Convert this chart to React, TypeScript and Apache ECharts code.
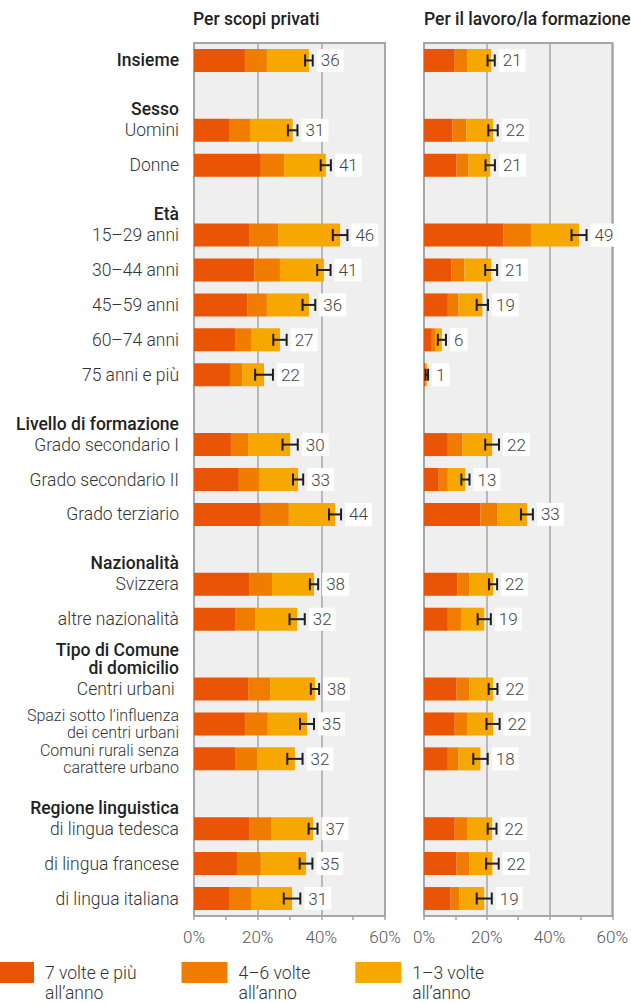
import React, { useEffect, useRef } from "react";
import * as echarts from "echarts";

const FONT = 'Roboto, "Noto Sans", sans-serif';

// Row labels (19 rows) and group headers placed before given row index
const rowLabels = [
  "Insieme",
  "Uomini",
  "Donne",
  "15–29 anni",
  "30–44 anni",
  "45–59 anni",
  "60–74 anni",
  "75 anni e più",
  "Grado secondario I",
  "Grado secondario II",
  "Grado terziario",
  "Svizzera",
  "altre nazionalità",
  "Centri urbani ",
  "Spazi sotto l’influenza\ndei centri urbani",
  "Comuni rurali senza\ncarattere urbano",
  "di lingua tedesca",
  "di lingua francese",
  "di lingua italiana",
];
const groupHeaderRows = [1, 3, 8, 11, 13, 16];
const groupHeaders = [
  "Sesso",
  "Età",
  "Livello di formazione",
  "Nazionalità",
  "Tipo di Comune\ndi domicilio",
  "Regione linguistica",
];

const seriesNames = ["7 volte e più all’anno", "4–6 volte all’anno", "1–3 volte all’anno"];
const legendLabels = ["7 volte e più\nall’anno", "4–6 volte\nall’anno", "1–3 volte\nall’anno"];
const colors = ["#E95504", "#F07D00", "#F6A700"];

const panelTitles = ["Per scopi privati", "Per il lavoro/la formazione"];
const xTicks = [0, 20, 40, 60];

// Per scopi privati
const privDark = [16.0, 11.0, 21.0, 17.3, 18.9, 16.7, 12.9, 11.3, 11.6, 14.1, 21.0, 17.3, 12.9, 17.0, 16.0, 12.9, 17.3, 13.5, 11.0];
const privMid = [6.9, 6.6, 7.3, 9.1, 8.1, 6.2, 5.0, 3.8, 5.4, 6.3, 8.8, 7.2, 6.3, 6.9, 7.2, 6.9, 6.9, 7.5, 6.9];
const privLight = [13.2, 13.4, 13.1, 19.5, 13.8, 13.2, 9.1, 6.9, 13.2, 12.3, 14.5, 13.2, 13.2, 14.1, 12.3, 11.9, 13.2, 14.2, 12.9];
const privErr = [1.2, 1.5, 1.6, 2.3, 2.1, 2.0, 2.1, 2.8, 2.4, 1.6, 1.9, 1.3, 2.4, 1.3, 2.2, 2.4, 1.4, 2.0, 2.6];
const privLabel = [36, 31, 41, 46, 41, 36, 27, 22, 30, 33, 44, 38, 32, 38, 35, 32, 37, 35, 31];

// Per il lavoro/la formazione
const workDark = [9.8, 9.1, 10.4, 25.2, 8.8, 7.6, 2.5, 0.4, 7.6, 4.7, 18.0, 10.7, 7.6, 10.4, 9.8, 7.6, 9.8, 10.4, 8.5];
const workMid = [4.1, 4.4, 3.8, 9.1, 4.1, 3.4, 1.0, 0.2, 4.7, 2.9, 5.3, 3.8, 4.4, 4.1, 4.1, 3.4, 4.1, 4.1, 2.8];
const workLight = [7.5, 8.5, 6.9, 15.1, 8.5, 7.6, 2.2, 0.3, 9.4, 5.6, 9.5, 7.5, 7.2, 7.5, 8.1, 7.0, 7.8, 7.3, 7.9];
const workErr = [1.15, 1.5, 1.5, 2.4, 1.9, 1.8, 1.3, 0.4, 2.2, 1.3, 1.9, 1.3, 2.1, 1.4, 2.1, 2.3, 1.4, 2.0, 2.4];
const workLabel = [21, 22, 21, 49, 21, 19, 6, 1, 22, 13, 33, 22, 19, 22, 22, 18, 22, 22, 19];

// Build slots (rows + gap slots before each group)
type Slot = { row: number; header?: string };
const slots: Slot[] = [];
rowLabels.forEach((_, i) => {
  const g = groupHeaderRows.indexOf(i);
  if (g >= 0) slots.push({ row: -1, header: groupHeaders[g] });
  slots.push({ row: i });
});
const slotNames = slots.map((_, k) => "s" + k);

function labelFor(k: number): string {
  const s = slots[k];
  if (s.row < 0) return "";
  const i = s.row;
  const prev = slots[k - 1];
  const text = rowLabels[i];
  if (i === 0) return `{hb|${text}}`;
  if (prev && prev.row < 0 && prev.header) {
    const h = prev.header;
    if (h.includes("\n")) {
      const [a, b] = h.split("\n");
      return `{h|${a}}\n{h|${b}}\n{n24|${text}}\n{e36| }`;
    }
    return `{hh|${h}}\n{n|${text}}\n{e22| }`;
  }
  if (text.includes("\n")) {
    const [a, b] = text.split("\n");
    return `{t|${a}}\n{t|${b}}`;
  }
  return `{n|${text}}`;
}

function slotData(arr: number[]) {
  return slots.map((s) => (s.row < 0 ? "-" : arr[s.row]));
}

function errData(d: number[], m: number[], l: number[], e: number[], lab: number[]) {
  const out: any[] = [];
  slots.forEach((s, k) => {
    if (s.row < 0) return;
    const i = s.row;
    const tot = d[i] + m[i] + l[i];
    out.push([k, Math.max(0, tot - e[i]), tot + e[i], lab[i]]);
  });
  return out;
}

const renderErr = (_params: any, api: any) => {
  const y = api.value(0);
  const p1 = api.coord([api.value(1), y]);
  const p2 = api.coord([api.value(2), y]);
  const c = 6;
  const st = { stroke: "#1e1e1e", lineWidth: 2 };
  return {
    type: "group",
    children: [
      { type: "line", shape: { x1: p1[0], y1: p1[1], x2: p2[0], y2: p2[1] }, style: st },
      { type: "line", shape: { x1: p1[0], y1: p1[1] - c, x2: p1[0], y2: p1[1] + c }, style: st },
      { type: "line", shape: { x1: p2[0], y1: p2[1] - c, x2: p2[0], y2: p2[1] + c }, style: st },
      {
        type: "text",
        x: p2[0] + 4,
        y: p2[1],
        style: {
          text: String(api.value(3)),
          fill: "#444",
          fontSize: 17,
          fontWeight: 300,
          fontFamily: FONT,
          align: "left",
          verticalAlign: "middle",
          backgroundColor: "#ffffff",
          padding: [3, 4, 3, 4],
          lineHeight: 17,
        },
      },
    ],
  };
};

const GRID_TOP = 43;
const GRID_H = 873;
const LBL = 17.5;

export default function App() {
  const ref = useRef<HTMLDivElement>(null);
  useEffect(() => {
    if (!ref.current) return;
    const chart = echarts.init(ref.current, undefined, { renderer: "svg" });
    const gridCommon = {
      top: GRID_TOP,
      height: GRID_H,
      show: true,
      backgroundColor: "#EFEFEF",
      borderColor: "#A6A6A6",
      borderWidth: 2,
      containLabel: false,
    };
    const xAxisCommon = (gi: number) => ({
      type: "value",
      gridIndex: gi,
      min: 0,
      max: 60,
      interval: 20,
      position: "bottom",
      axisLine: { show: true, lineStyle: { color: "#A6A6A6", width: 2 } },
      axisTick: { show: true, length: 4, lineStyle: { color: "#A6A6A6", width: 1.5 } },
      minorTick: { show: true, splitNumber: 2, length: 4, lineStyle: { color: "#A6A6A6", width: 1.5 } },
      splitLine: { show: true, lineStyle: { color: "#A6A6A6", width: 1.5 } },
      axisLabel: {
        formatter: (v: number) => (xTicks.includes(v) ? v + "%" : ""),
        color: "#555",
        fontSize: 17,
        fontWeight: 300,
        fontFamily: FONT,
        margin: 12,
        hideOverlap: false,
      },
    });
    const richBase = { fontFamily: FONT, fontSize: LBL, color: "#333" };
    const yAxisCommon = (gi: number, showLabels: boolean) => ({
      type: "category",
      gridIndex: gi,
      data: slotNames,
      inverse: true,
      axisLine: { show: false },
      axisTick: { show: false },
      splitLine: { show: false },
      axisLabel: {
        show: showLabels,
        interval: 0,
        margin: 15,
        align: "right",
        formatter: (_v: string, idx: number) => labelFor(idx),
        rich: {
          hb: { ...richBase, fontWeight: 500, color: "#222", lineHeight: 20 },
          hh: { ...richBase, fontWeight: 500, color: "#222", lineHeight: 22 },
          h: { ...richBase, fontWeight: 500, color: "#222", lineHeight: 18 },
          n: { ...richBase, fontWeight: 300, lineHeight: 20 },
          n24: { ...richBase, fontWeight: 300, lineHeight: 24 },
          t: { ...richBase, fontSize: 16, fontWeight: 300, lineHeight: 17.45 },
          e22: { ...richBase, lineHeight: 22 },
          e36: { ...richBase, lineHeight: 36 },
        },
      },
    });

    const barSeries = (gi: number, stack: string, arrs: number[][]) =>
      arrs.map((arr, j) => ({
        type: "bar",
        name: seriesNames[j],
        xAxisIndex: gi,
        yAxisIndex: gi,
        stack,
        barWidth: 23,
        itemStyle: { color: colors[j] },
        data: slotData(arr),
        z: 2,
      }));

    const legendRich = { fontFamily: FONT, fontSize: LBL, fontWeight: 300, color: "#333" };

    const option: any = {
      animation: false,
      textStyle: { fontFamily: FONT },
      title: panelTitles.map((t, i) => ({
        text: t,
        left: i === 0 ? 193 : 424,
        top: 10,
        padding: 0,
        textStyle: { fontSize: LBL, fontWeight: 500, color: "#222", fontFamily: FONT },
      })),
      legend: {
        data: seriesNames,
        left: -12,
        top: 944,
        padding: 0,
        itemWidth: 46,
        itemHeight: 21,
        itemGap: 45,
        icon: "rect",
        selectedMode: false,
        formatter: (name: string) => {
          const [a, b] = legendLabels[seriesNames.indexOf(name)].split("\n");
          return `{e| }\n{a|${a}}\n{b|${b}}`;
        },
        textStyle: {
          ...legendRich,
          padding: [0, 0, 0, 6],
          rich: {
            e: { ...legendRich, lineHeight: 20 },
            a: { ...legendRich, lineHeight: 20 },
            b: { ...legendRich, lineHeight: 19 },
          },
        },
      },
      grid: [
        { ...gridCommon, left: 194, width: 191 },
        { ...gridCommon, left: 424, width: 190.5 },
      ],
      xAxis: [xAxisCommon(0), xAxisCommon(1)],
      yAxis: [yAxisCommon(0, true), yAxisCommon(1, false)],
      series: [
        ...barSeries(0, "priv", [privDark, privMid, privLight]),
        ...barSeries(1, "work", [workDark, workMid, workLight]),
        {
          type: "custom",
          xAxisIndex: 0,
          yAxisIndex: 0,
          renderItem: renderErr,
          encode: { x: [1, 2], y: 0 },
          data: errData(privDark, privMid, privLight, privErr, privLabel),
          z: 5,
        },
        {
          type: "custom",
          xAxisIndex: 1,
          yAxisIndex: 1,
          renderItem: renderErr,
          encode: { x: [1, 2], y: 0 },
          data: errData(workDark, workMid, workLight, workErr, workLabel),
          z: 5,
        },
      ],
    };
    chart.setOption(option);
    return () => chart.dispose();
  }, []);
  return (
    <div
      ref={ref}
      style={{ position: "absolute", left: 0, top: 0, width: 631, height: 1003, background: "#fff" }}
    />
  );
}
